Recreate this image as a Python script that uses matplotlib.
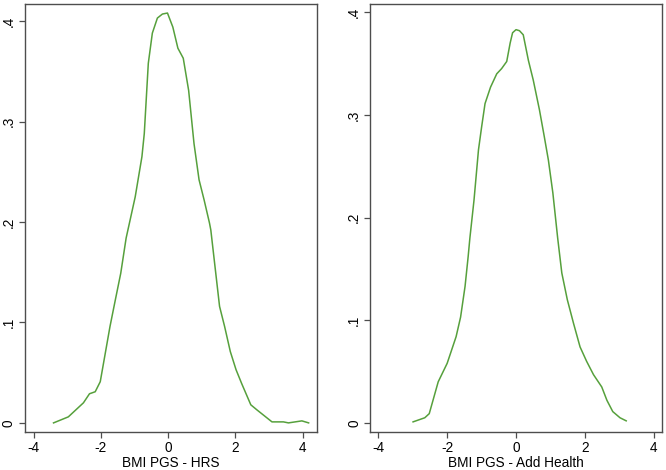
import matplotlib.pyplot as plt

plt.rcParams["font.family"] = ["Liberation Sans", "DejaVu Sans"]

# density of BMI PGS, HRS sample
hrs_x = [-3.41, -2.97, -2.52, -2.34, -2.17, -2.02, -1.73, -1.58, -1.41, -1.25,
         -0.98, -0.78, -0.71, -0.59, -0.47, -0.32, -0.17, -0.02, 0.14, 0.29,
         0.45, 0.61, 0.77, 0.92, 1.07, 1.23, 1.27, 1.53, 1.68, 1.85, 2.02,
         2.19, 2.46, 2.64, 3.09, 3.43, 3.58, 3.98, 4.18]
hrs_y = [0.000, 0.006, 0.020, 0.029, 0.031, 0.041, 0.096, 0.121, 0.149, 0.184,
         0.225, 0.265, 0.288, 0.358, 0.388, 0.403, 0.407, 0.408, 0.394, 0.373,
         0.363, 0.331, 0.278, 0.242, 0.222, 0.199, 0.192, 0.116, 0.096, 0.071,
         0.053, 0.039, 0.018, 0.013, 0.001, 0.001, 0.000, 0.002, 0.000]

# density of BMI PGS, Add Health sample
ah_x = [-2.99, -2.65, -2.52, -2.26, -2.00, -1.74, -1.61, -1.48, -1.39, -1.34,
        -1.22, -1.09, -1.00, -0.90, -0.74, -0.56, -0.42, -0.27, -0.17, -0.10,
        0.00, 0.10, 0.21, 0.36, 0.50, 0.68, 0.82, 0.94, 1.07, 1.21, 1.33,
        1.49, 1.67, 1.86, 2.05, 2.25, 2.49, 2.64, 2.81, 3.02, 3.20]
ah_y = [0.001, 0.005, 0.009, 0.040, 0.058, 0.084, 0.103, 0.133, 0.162, 0.180,
        0.217, 0.266, 0.288, 0.311, 0.327, 0.340, 0.345, 0.352, 0.370, 0.380,
        0.383, 0.382, 0.378, 0.353, 0.334, 0.305, 0.279, 0.256, 0.224, 0.180,
        0.146, 0.120, 0.097, 0.074, 0.060, 0.047, 0.035, 0.022, 0.011, 0.005,
        0.002]

x_ticks = [-4, -2, 0, 2, 4]
y_ticks = [0, 0.1, 0.2, 0.3, 0.4]
y_labels = ["0", ".1", ".2", ".3", ".4"]

green = "#56a03c"
edge = "#4d4d4d"

fig = plt.figure(figsize=(6.66, 4.70), dpi=100)
ax1 = fig.add_axes([0.0375, 0.081, 0.4385, 0.9105])
ax2 = fig.add_axes([0.5556, 0.081, 0.4384, 0.9105])

panels = [
    (ax1, hrs_x, hrs_y, "BMI PGS - HRS", (-4.26, 4.43), (-0.009, 0.417)),
    (ax2, ah_x, ah_y, "BMI PGS - Add Health", (-4.24, 4.24), (-0.0088, 0.408)),
]

for ax, xs, ys, label, xlim, ylim in panels:
    ax.plot(xs, ys, color=green, lw=1.1)
    ax.set_xlim(*xlim)
    ax.set_ylim(*ylim)
    ax.set_xticks(x_ticks)
    ax.set_xticklabels([str(t) for t in x_ticks])
    ax.set_yticks(y_ticks)
    ax.set_yticklabels(y_labels, rotation=90, va="center")
    ax.set_xlabel(label, fontsize=9.8, labelpad=1.0)
    ax.tick_params(labelsize=9.8, length=4.5, width=0.9, color=edge, pad=2)
    for s in ax.spines.values():
        s.set_color(edge)
        s.set_linewidth(1.0)

fig.savefig("out.png", dpi=100)
